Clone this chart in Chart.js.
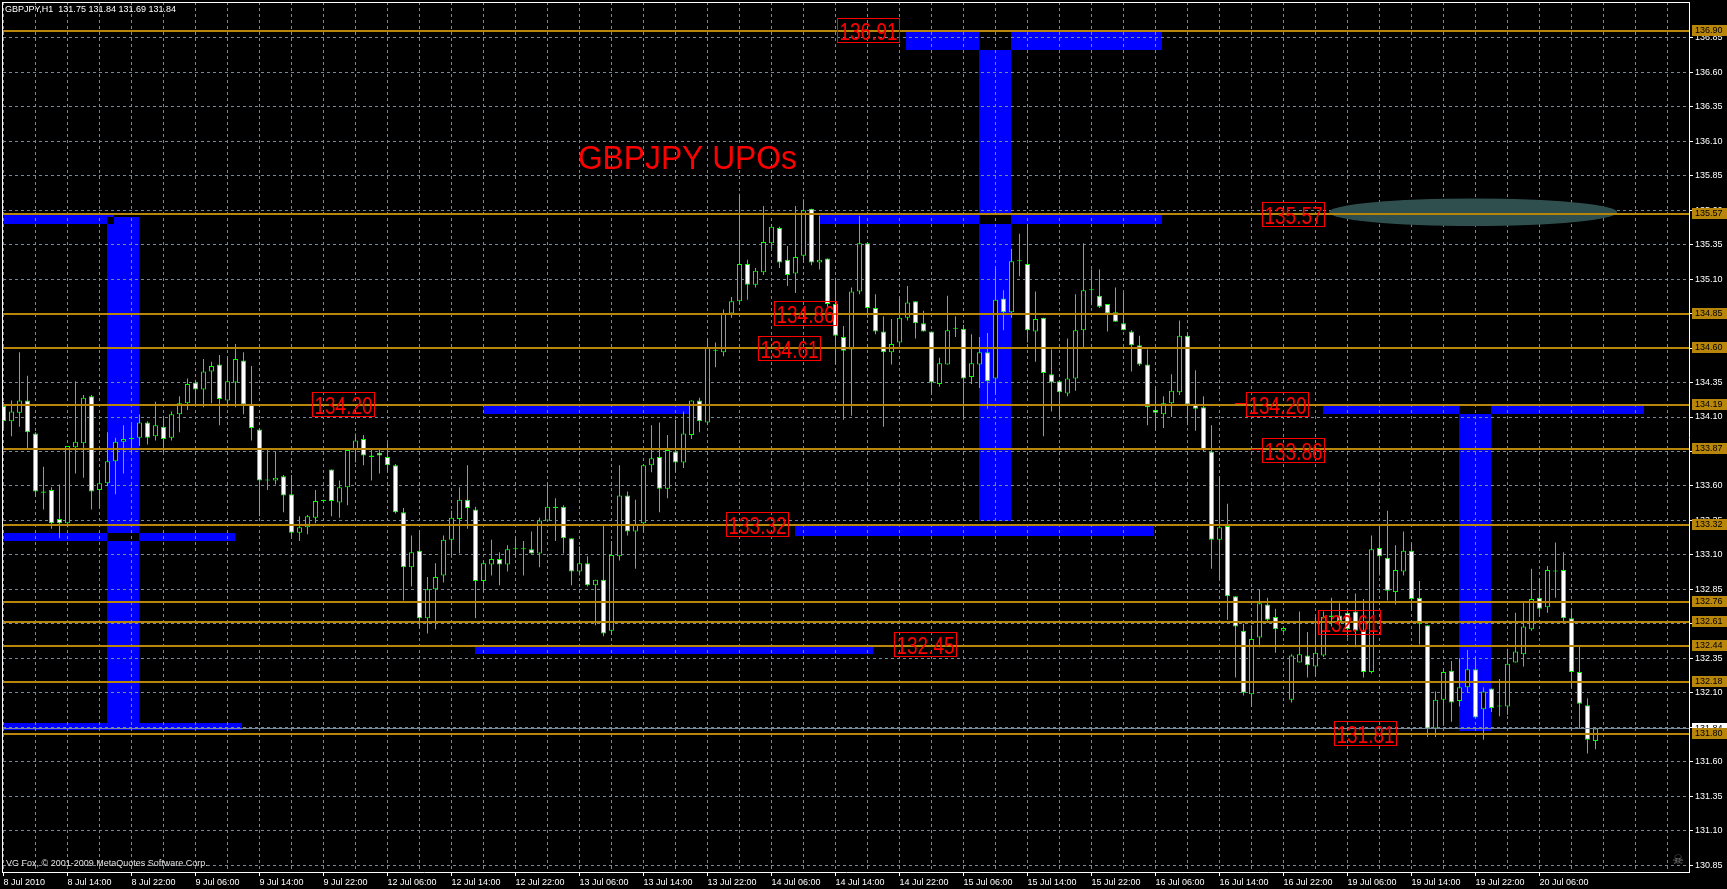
<!DOCTYPE html>
<html>
<head>
<meta charset="utf-8">
<script src="https://cdn.jsdelivr.net/npm/chart.js@4.4.1/dist/chart.umd.min.js"></script>
<style>
html,body{margin:0;padding:0;background:#000;overflow:hidden}
canvas{display:block}
</style>
</head>
<body>
<canvas id="c" width="1727" height="889"></canvas>
<script>
// ---------------- data ----------------
const timeLabels = ["8 Jul 2010","8 Jul 14:00","8 Jul 22:00","9 Jul 06:00","9 Jul 14:00","9 Jul 22:00",
  "12 Jul 06:00","12 Jul 14:00","12 Jul 22:00","13 Jul 06:00","13 Jul 14:00","13 Jul 22:00",
  "14 Jul 06:00","14 Jul 14:00","14 Jul 22:00","15 Jul 06:00","15 Jul 14:00","15 Jul 22:00",
  "16 Jul 06:00","16 Jul 14:00","16 Jul 22:00","19 Jul 06:00","19 Jul 14:00","19 Jul 22:00","20 Jul 06:00"];

const openPrices = [
134.18,134.07,134.13,134.22,133.98,133.55,133.57,133.36,133.33,133.88,
133.91,134.25,133.57,133.62,133.78,133.92,133.94,133.95,134.06,133.96,
134.03,133.95,134.12,134.20,134.35,134.30,134.43,134.48,134.22,134.35,
134.51,134.19,134.01,133.64,133.64,133.67,133.54,133.26,133.30,133.37,
133.49,133.72,133.48,133.59,133.86,133.94,133.82,133.84,133.81,133.75,
133.41,133.01,133.13,132.64,132.85,132.95,133.21,133.36,133.50,133.43,
132.91,133.03,133.07,133.03,133.14,133.14,133.14,133.11,133.35,133.45,
133.45,133.22,132.98,133.04,132.88,132.92,132.55,133.09,133.53,133.27,
133.33,133.75,133.81,133.58,133.85,133.77,133.97,134.22,134.06,134.58,
134.57,134.85,134.94,135.21,135.06,135.15,135.36,135.47,135.24,135.14,
135.27,135.61,135.22,135.25,134.92,134.68,134.59,135.01,135.36,134.89,
134.72,134.57,134.64,134.82,134.94,134.78,134.72,134.34,134.48,134.74,
134.74,134.39,134.48,134.57,134.38,134.96,134.86,135.23,135.21,134.72,
134.82,134.41,134.36,134.27,134.38,134.73,135.02,134.98,134.92,134.86,
134.78,134.72,134.62,134.48,134.15,134.12,134.20,134.28,134.69,134.19,
134.17,133.85,133.21,133.31,132.80,132.55,132.09,132.50,132.74,132.65,
132.55,132.05,132.32,132.37,132.29,132.37,132.65,132.66,132.68,132.69,
132.55,132.25,133.15,133.08,132.83,132.98,133.13,132.79,132.59,131.84,
132.05,132.26,132.04,132.14,132.27,131.98,132.13,132.00,132.00,132.32,
132.38,132.56,132.79,132.72,132.98,132.99,132.64,132.25,132.01,131.75];

const highPrices = [
134.21,134.22,134.57,134.40,133.99,133.74,133.59,133.61,133.89,134.36,
134.26,134.26,133.71,133.99,133.95,134.04,134.04,134.12,134.07,134.21,
134.11,134.14,134.25,134.38,134.37,134.52,134.50,134.55,134.54,134.63,
134.57,134.47,134.02,133.86,133.85,133.68,133.68,133.38,133.39,133.57,
133.50,133.72,133.64,133.87,133.98,133.97,133.86,133.86,133.91,133.76,
133.44,133.24,133.28,132.94,133.04,133.24,133.42,133.59,133.75,133.45,
133.06,133.21,133.12,133.17,133.23,133.20,133.27,133.37,133.62,133.51,
133.46,133.22,133.16,133.09,132.92,133.32,133.20,133.75,133.56,133.50,
133.76,134.04,134.06,133.97,134.08,134.14,134.22,134.24,134.67,134.64,
134.88,134.97,135.72,135.24,135.18,135.63,135.50,135.48,135.34,135.63,
135.68,135.61,135.56,135.25,135.11,134.76,135.04,135.56,135.37,134.99,
134.83,134.81,134.97,135.05,134.94,134.87,134.72,134.53,134.98,134.83,
134.77,134.70,134.68,134.71,135.19,135.02,135.32,135.43,135.50,135.01,
134.82,134.59,134.36,134.67,134.99,135.36,135.17,135.17,134.92,135.04,
135.00,134.73,134.69,134.59,134.32,134.25,134.41,134.80,134.71,134.44,
134.25,134.04,133.67,133.47,132.80,132.60,132.59,132.85,132.79,132.71,
132.58,132.38,132.69,132.54,132.65,132.69,132.79,132.75,132.70,132.82,
132.78,133.24,133.32,133.42,133.17,133.27,133.18,132.91,132.59,132.11,
132.28,132.33,132.35,132.41,132.36,132.14,132.13,132.20,132.42,132.68,
132.76,133.00,132.93,133.02,133.19,133.12,132.71,132.44,132.06,131.84];

const lowPrices = [
134.01,133.96,134.03,133.87,133.52,133.43,133.29,133.22,133.30,133.69,
133.66,133.43,133.44,133.60,133.54,133.69,133.84,133.89,133.90,133.93,
133.84,133.93,133.99,134.15,134.18,134.17,134.20,134.04,134.17,134.17,
134.12,133.93,133.38,133.57,133.61,133.41,133.23,133.20,133.25,133.33,
133.48,133.38,133.37,133.46,133.77,133.75,133.64,133.69,133.70,133.40,
132.77,132.87,132.57,132.53,132.56,132.90,133.08,133.11,133.29,132.64,
132.83,132.95,132.88,132.98,133.08,132.95,133.11,133.01,133.34,133.20,
133.11,132.88,132.95,132.87,132.59,132.51,132.52,133.06,133.24,133.00,
133.26,133.70,133.41,133.51,133.70,133.73,133.94,133.99,134.04,134.46,
134.54,134.82,134.92,134.95,135.04,135.13,135.32,135.18,135.05,135.00,
135.22,135.20,135.17,134.90,134.48,134.08,134.11,134.99,134.82,134.70,
134.03,134.48,134.62,134.80,134.67,134.72,134.27,134.32,134.48,134.68,
134.08,134.34,134.31,134.16,134.27,134.73,134.82,135.12,134.64,134.50,
133.96,134.14,134.08,134.25,134.29,134.60,134.91,134.89,134.72,134.79,
134.73,134.43,134.47,134.04,134.00,134.02,134.10,134.26,134.04,134.00,
133.85,133.00,132.92,132.63,132.21,132.08,132.00,132.43,132.61,132.39,
132.54,132.03,132.32,132.21,132.22,132.36,132.58,132.56,132.50,132.43,
132.21,132.24,132.95,132.77,132.74,132.95,132.70,132.45,131.78,131.78,
131.86,131.89,132.00,132.10,131.92,131.76,131.96,131.93,131.94,132.32,
132.29,132.55,132.65,132.68,132.79,132.62,132.13,131.84,131.66,131.69];

const closePrices = [
134.07,134.14,134.22,133.99,133.56,133.56,133.33,133.33,133.89,133.92,
134.24,133.56,133.62,133.78,133.92,133.94,133.94,134.06,133.95,134.04,
133.94,134.12,134.20,134.34,134.30,134.43,134.47,134.23,134.36,134.52,
134.19,134.02,133.64,133.64,133.66,133.53,133.26,133.30,133.38,133.49,
133.49,133.49,133.59,133.86,133.93,133.82,133.81,133.82,133.75,133.41,
133.01,133.12,132.64,132.85,132.94,133.21,133.37,133.50,133.44,132.91,
133.04,133.07,133.03,133.14,133.14,133.14,133.11,133.35,133.45,133.44,
133.22,132.98,133.04,132.88,132.92,132.53,133.10,133.53,133.27,133.32,
133.75,133.80,133.58,133.86,133.77,133.98,134.22,134.07,134.60,134.58,
134.85,134.94,135.21,135.06,135.16,135.37,135.48,135.22,135.13,135.26,
135.60,135.22,135.24,134.92,134.69,134.58,135.01,135.36,134.89,134.72,
134.57,134.63,134.82,134.93,134.78,134.72,134.35,134.49,134.73,134.74,
134.38,134.49,134.57,134.36,134.95,134.86,135.23,135.23,134.73,134.81,
134.42,134.35,134.28,134.38,134.73,135.02,135.02,134.90,134.85,134.79,
134.73,134.62,134.48,134.17,134.13,134.20,134.29,134.69,134.19,134.16,
133.86,133.21,133.30,132.80,132.58,132.10,132.49,132.75,132.63,132.56,
132.57,132.37,132.38,132.30,132.39,132.65,132.66,132.62,132.56,132.55,
132.25,133.14,133.09,132.84,132.99,133.13,132.78,132.60,131.84,132.05,
132.25,132.03,132.14,132.27,131.92,132.11,131.99,132.00,132.31,132.40,
132.58,132.78,132.71,132.99,132.98,132.64,132.25,132.02,131.76,131.84];

const yTickValues = [130.85,131.10,131.35,131.60,131.85,132.10,132.35,132.60,132.85,133.10,133.35,133.60,
  133.85,134.10,134.35,134.60,134.85,135.10,135.35,135.60,135.85,136.10,136.35,136.60,136.85];

const levelPrices = [136.90,135.57,134.85,134.60,134.19,133.87,133.32,132.76,132.61,132.44,132.18,131.80];

// blue zones: bar index range and price range
const zoneStart = [-1, 12.9, -1, -1, 59.98, 58.94, 98.96, 112.8, 101.98, 121.94, 164.9, 181.94];
const zoneEnd   = [13.75, 16.94, 28.94, 29.8, 85.69, 108.7, 143.85, 144.8, 144.8, 125.94, 205, 185.94];
const zoneLow   = [135.50, 131.88, 133.20, 131.83, 134.12, 132.38, 133.24, 136.76, 135.50, 133.345, 134.12, 131.82];
const zoneHigh  = [135.57, 135.55, 133.26, 131.88, 134.19, 132.445, 133.315, 136.90, 135.57, 136.90, 134.19, 134.19];

// red price notes: text, bar index of box left, price at box centre, leading dash
const noteTexts  = ["136.91","135.57","134.86","134.61","134.20","134.20","133.86","133.32","132.45","132.61","131.81"];
const noteBars   = [104.2, 157.3, 96.3, 94.3, 38.6, 155.3, 157.3, 90.3, 111.3, 164.3, 166.3];
const notePrices = [136.903,135.569,134.854,134.597,134.191,134.191,133.858,133.324,132.45,132.608,131.803];
const noteDashes = [false,false,false,false,false,true,true,false,false,false,false];

const titleText = "GBPJPY UPOs";
const titleBar = 71.8, titlePrice = 135.902;
const ellipseBar = 183.7, ellipsePrice = 135.585, ellipseHalfBars = 18, ellipseHalfPrice = 0.1;
const lastBid = 131.84;
const headerText = "GBPJPY,H1  131.75 131.84 131.69 131.84";
const footerText = "VG Fox, \u00A9 2001-2009 MetaQuotes Software Corp.";

// ---------------- build datasets ----------------
const bodyData = openPrices.map((o, i) => ({x: i, y: [o, closePrices[i]]}));
const wickData = lowPrices.map((l, i) => ({x: i, y: [l, highPrices[i]]}));
const gridBars = [];
for (let v = 0; v <= 208; v += 4) gridBars.push(v);

const FONT = "'Liberation Sans', Arial, sans-serif";
const GOLD = '#b8860b';

function isLabelTick(v) { return v % 8 === 0 && v / 8 < timeLabels.length; }

const mt4Overlay = {
  id: 'mt4Overlay',
  beforeDraw(chart) {
    const {ctx, chartArea: a} = chart;
    const xs = chart.scales.x, ys = chart.scales.y;
    ctx.save();
    ctx.fillStyle = '#000';
    ctx.fillRect(0, 0, chart.width, chart.height);
    ctx.beginPath();
    ctx.rect(a.left, a.top, a.right - a.left, a.bottom - a.top);
    ctx.clip();
    const box = (x1, x2, lo, hi) => {
      const l = Math.round(xs.getPixelForValue(x1)), r = Math.round(xs.getPixelForValue(x2));
      const t = Math.round(ys.getPixelForValue(hi)), b = Math.round(ys.getPixelForValue(lo));
      if (r > l && b > t) ctx.fillRect(l, t, r - l, b - t);
    };
    ctx.fillStyle = '#0000ff';
    for (let i = 0; i < zoneStart.length; i++) box(zoneStart[i], zoneEnd[i], zoneLow[i], zoneHigh[i]);
    ctx.fillStyle = '#000';
    for (let i = 0; i < zoneStart.length; i++) {
      for (let j = i + 1; j < zoneStart.length; j++) {
        const x1 = Math.max(zoneStart[i], zoneStart[j]), x2 = Math.min(zoneEnd[i], zoneEnd[j]);
        const lo = Math.max(zoneLow[i], zoneLow[j]), hi = Math.min(zoneHigh[i], zoneHigh[j]);
        if (x2 > x1 && hi > lo) box(x1, x2, lo, hi);
      }
    }
    ctx.restore();
  },
  beforeDatasetsDraw(chart) {
    const {ctx, chartArea: a} = chart;
    const xs = chart.scales.x, ys = chart.scales.y;
    ctx.save();
    ctx.beginPath();
    ctx.rect(a.left, a.top, a.right - a.left, a.bottom - a.top);
    ctx.clip();
    const cx = xs.getPixelForValue(ellipseBar), cy = ys.getPixelForValue(ellipsePrice);
    const rx = xs.getPixelForValue(ellipseBar + ellipseHalfBars) - cx;
    const ry = ys.getPixelForValue(ellipsePrice - ellipseHalfPrice) - cy;
    ctx.fillStyle = '#2f4f4f';
    ctx.beginPath();
    ctx.ellipse(cx, cy, rx, ry, 0, 0, Math.PI * 2);
    ctx.fill();
    ctx.restore();
  },
  afterDatasetsDraw(chart) {
    const {ctx, chartArea: a} = chart;
    const xs = chart.scales.x, ys = chart.scales.y;
    ctx.save();
    ctx.beginPath();
    ctx.rect(a.left, a.top, a.right - a.left, a.bottom - a.top);
    ctx.clip();
    // bid line
    ctx.fillStyle = '#778899';
    ctx.fillRect(a.left, Math.round(ys.getPixelForValue(lastBid)) - 1, a.right - a.left, 1);
    // horizontal levels
    ctx.fillStyle = GOLD;
    for (const p of levelPrices) {
      const yy = Math.round(ys.getPixelForValue(p));
      ctx.fillRect(a.left, yy - 1, a.right - a.left, 2);
    }
    // red notes
    ctx.font = '24px ' + FONT;
    ctx.textBaseline = 'alphabetic';
    ctx.textAlign = 'left';
    for (let i = 0; i < noteTexts.length; i++) {
      const l = Math.round(xs.getPixelForValue(noteBars[i]));
      const cy = ys.getPixelForValue(notePrices[i]);
      const t = Math.round(cy - 12.5);
      ctx.strokeStyle = '#ff0000';
      ctx.lineWidth = 1;
      ctx.strokeRect(l + 0.5, t + 0.5, 62, 24);
      ctx.fillStyle = '#ff0000';
      ctx.fillText(noteTexts[i], l + 2.5, t + 21.5, 58);
      if (noteDashes[i]) ctx.fillRect(l - 11, Math.round(cy) - 1, 11, 1);
    }
    // title
    ctx.font = '34px ' + FONT;
    ctx.fillStyle = '#ff0000';
    ctx.fillText(titleText, xs.getPixelForValue(titleBar), ys.getPixelForValue(titlePrice), 219);
    ctx.restore();
  },
  afterDraw(chart) {
    const {ctx, chartArea: a} = chart;
    const ys = chart.scales.y;
    ctx.save();
    ctx.font = '9px ' + FONT;
    ctx.textBaseline = 'middle';
    ctx.textAlign = 'left';
    // current price tag
    const by = Math.round(ys.getPixelForValue(lastBid));
    ctx.fillStyle = '#ffffff';
    ctx.fillRect(a.right + 3, by - 6, 35, 11);
    ctx.fillStyle = '#000';
    ctx.fillText(lastBid.toFixed(2), a.right + 6, by);
    // level tags
    for (const p of levelPrices) {
      const yy = Math.round(ys.getPixelForValue(p));
      ctx.fillStyle = GOLD;
      ctx.fillRect(a.right + 3, yy - 6, 35, 11);
      ctx.fillStyle = '#000';
      ctx.fillText(p.toFixed(2), a.right + 6, yy);
    }
    // frame (left and top)
    ctx.fillStyle = '#ffffff';
    ctx.fillRect(a.left - 1, a.top, 1, a.bottom - a.top + 1);
    ctx.fillRect(a.left - 1, a.top, a.right - a.left + 1, 1);
    // header & footer
    ctx.textBaseline = 'alphabetic';
    ctx.fillStyle = '#ffffff';
    ctx.fillText(headerText, a.left + 2, a.top + 10);
    ctx.fillStyle = '#e0e0e0';
    ctx.fillText(footerText, a.left + 3, a.bottom - 6);
    // skull
    ctx.fillStyle = '#808080';
    ctx.font = '13px "DejaVu Sans"';
    ctx.textAlign = 'center';
    ctx.fillText('\u2620', a.right - 11, a.bottom - 8);
    ctx.restore();
  }
};

new Chart(document.getElementById('c'), {
  type: 'bar',
  data: {
    datasets: [
      {
        label: 'body', data: bodyData, order: 0, grouped: false,
        barThickness: 5, minBarLength: 1, inflateAmount: 0,
        backgroundColor: (c) => {
          const i = c.dataIndex;
          if (i === undefined) return '#000';
          if (closePrices[i] > openPrices[i]) return '#000000';
          if (closePrices[i] < openPrices[i]) return '#ffffff';
          return '#00ff00';
        },
        borderColor: '#00ff00', borderWidth: 1, borderSkipped: false
      },
      {
        label: 'wick', data: wickData, order: 1, grouped: false,
        barThickness: 1, minBarLength: 1, inflateAmount: 0,
        backgroundColor: '#00ff00', borderWidth: 0
      }
    ]
  },
  options: {
    responsive: false,
    animation: false,
    devicePixelRatio: 1,
    layout: {padding: {left: 3, top: 2, right: 0, bottom: 0}},
    plugins: {legend: {display: false}, tooltip: {enabled: false}},
    scales: {
      x: {
        type: 'linear', min: -0.0625, max: 210.6875, offset: false, bounds: 'data',
        afterBuildTicks: (s) => { s.ticks = gridBars.map(v => ({value: v})); },
        afterFit: (s) => { s.height = 17; s.paddingLeft = 0; s.paddingRight = 0; },
        grid: {
          color: '#778899', lineWidth: 1, offset: false, drawTicks: true, tickLength: 4, tickWidth: 1,
          tickColor: (c) => (c.tick && isLabelTick(c.tick.value)) ? '#ffffff' : 'rgba(0,0,0,0)'
        },
        border: {display: true, color: '#ffffff', width: 1, dash: [3, 3]},
        ticks: {
          color: '#ffffff', font: {family: FONT, size: 9}, align: 'start', padding: 1,
          maxRotation: 0, minRotation: 0, autoSkip: false,
          callback: (v) => isLabelTick(v) ? timeLabels[v / 8] : ''
        }
      },
      y: {
        type: 'linear', position: 'right', min: 130.80, max: 137.11, bounds: 'data',
        afterBuildTicks: (s) => { s.ticks = yTickValues.map(v => ({value: v})); },
        afterFit: (s) => { s.width = 38; s.paddingTop = 0; s.paddingBottom = 0; },
        grid: {color: '#778899', lineWidth: 1, drawTicks: true, tickLength: 4, tickWidth: 1, tickColor: '#ffffff'},
        border: {display: true, color: '#ffffff', width: 1, dash: [3, 3]},
        ticks: {
          color: '#ffffff', font: {family: FONT, size: 9}, padding: 2, autoSkip: false,
          callback: (v) => Number(v).toFixed(2)
        }
      }
    }
  },
  plugins: [mt4Overlay]
});
</script>
</body>
</html>
